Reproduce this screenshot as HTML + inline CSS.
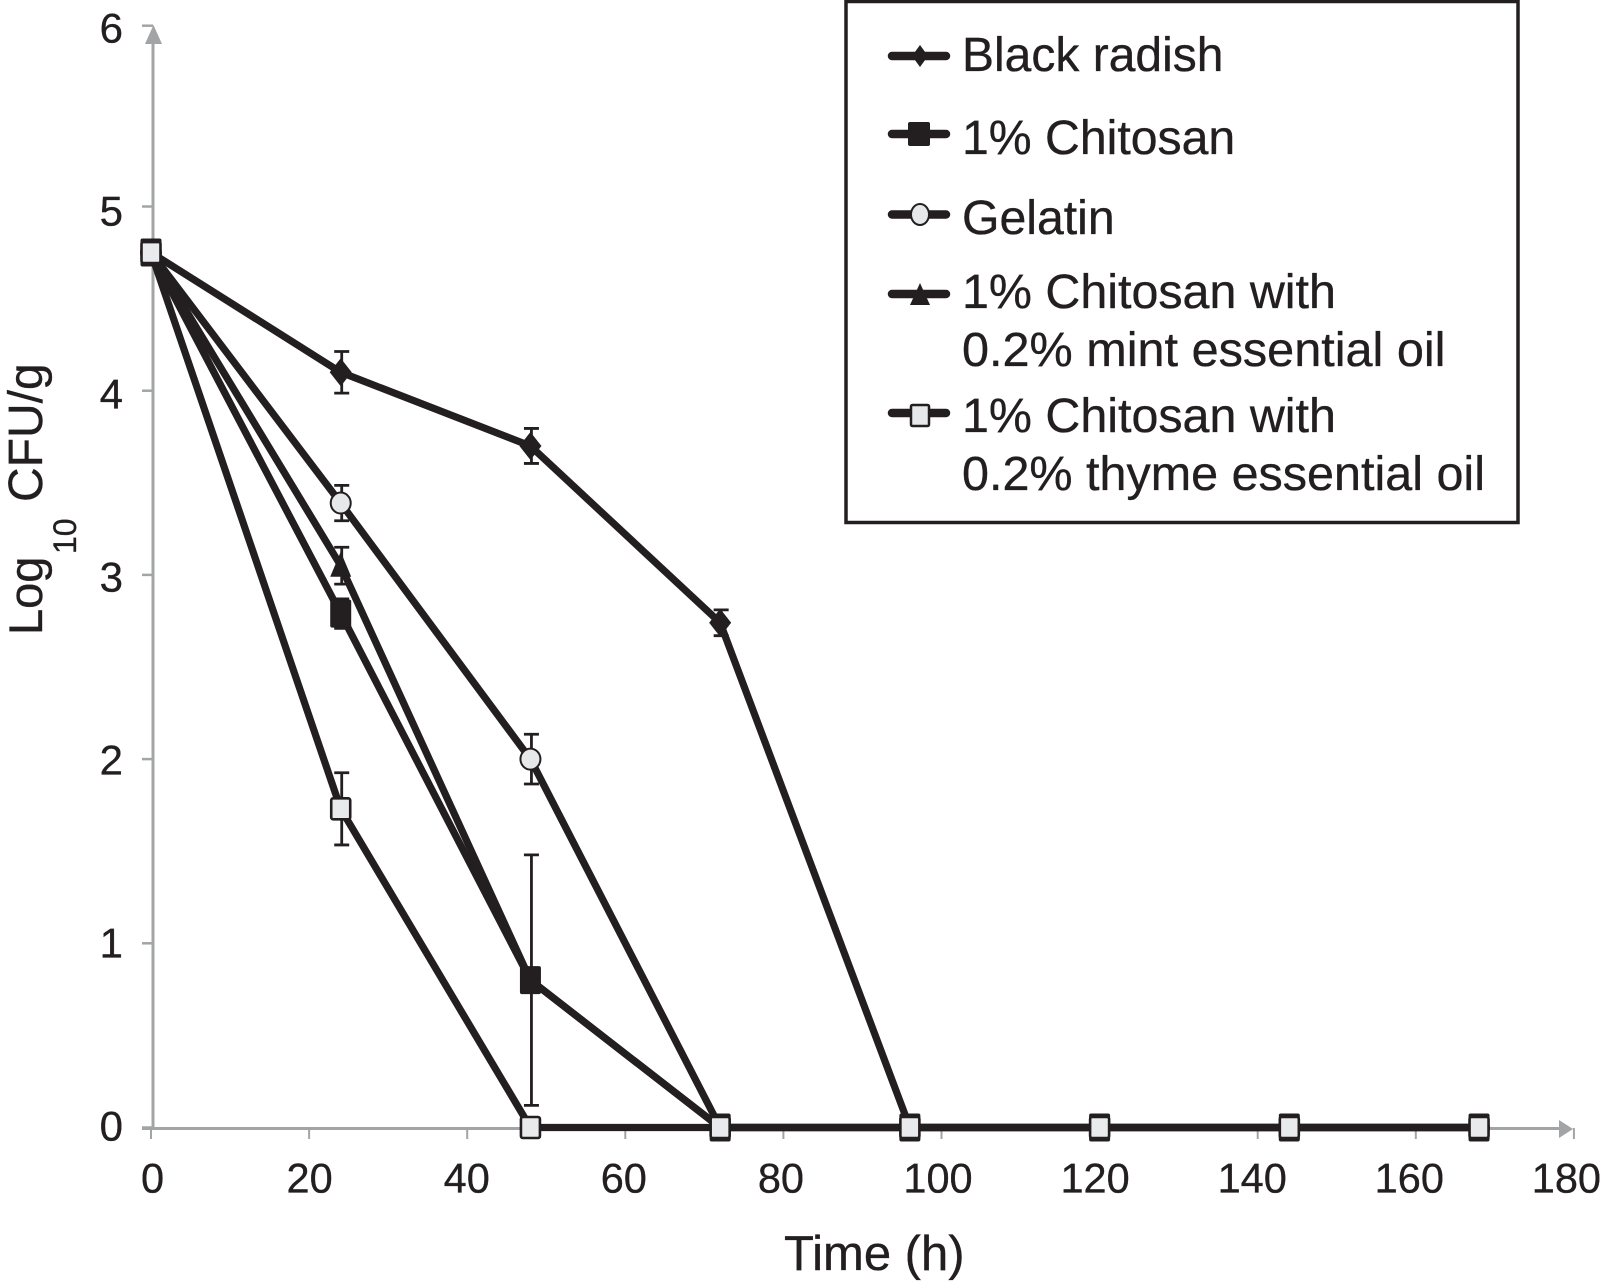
<!DOCTYPE html>
<html lang="en">
<head>
<meta charset="utf-8">
<title>Log10 CFU/g over time</title>
<style>
  html, body { margin: 0; padding: 0; background: #fff; }
  body { width: 1601px; height: 1281px; overflow: hidden; }
  svg { display: block; }
  text { font-family: "Liberation Sans", sans-serif; fill: #231f20; stroke: #231f20; stroke-width: 0.35px; }
</style>
</head>
<body>
<svg id="chart" xmlns="http://www.w3.org/2000/svg" width="1601" height="1281" viewBox="0 0 1601 1281">
  <g id="axes"></g>
  <g id="series"></g>

  <text x="784" y="1270" font-size="49">Time (h)</text>
  <text transform="translate(42,635) rotate(-90)" font-size="48"><tspan x="0" y="0" font-size="47">Log</tspan><tspan x="81" y="34" font-size="32">10</tspan><tspan x="133" y="0">CFU/g</tspan></text>

  <g>
    <rect x="846" y="1.5" width="672" height="521" fill="#fff" stroke="#231f20" stroke-width="3.5"/>

    <g>
      <line x1="892" x2="946" y1="56" y2="56" stroke="#231f20" stroke-width="8.5" stroke-linecap="round"/>
      <polygon points="920,45 928,56 920,67 912,56" fill="#231f20"/>
      <text x="962" y="71" font-size="48">Black radish</text>
    </g>
    <g>
      <line x1="892" x2="946" y1="134" y2="134" stroke="#231f20" stroke-width="8.5" stroke-linecap="round"/>
      <rect x="908" y="122" width="22" height="24" rx="2" fill="#231f20"/>
      <text x="962" y="154" font-size="48.2">1% Chitosan</text>
    </g>
    <g>
      <line x1="892" x2="946" y1="214.5" y2="214.5" stroke="#231f20" stroke-width="8.5" stroke-linecap="round"/>
      <ellipse cx="920" cy="214.5" rx="9" ry="10.5" fill="#e6e8e9" stroke="#231f20" stroke-width="2"/>
      <text x="962" y="234" font-size="48.2">Gelatin</text>
    </g>
    <g>
      <line x1="892" x2="946" y1="294" y2="294" stroke="#231f20" stroke-width="8.5" stroke-linecap="round"/>
      <polygon points="920,283 930,305 910,305" fill="#231f20"/>
      <text x="962" y="308" font-size="48.4">1% Chitosan with</text>
      <text x="962" y="366" font-size="48.6">0.2% mint essential oil</text>
    </g>
    <g>
      <line x1="892" x2="946" y1="413" y2="413" stroke="#231f20" stroke-width="8.5" stroke-linecap="round"/>
      <rect x="911" y="405" width="18" height="21" rx="1.5" fill="#e6e8e9" stroke="#231f20" stroke-width="2.5"/>
      <text x="962" y="432" font-size="48.4">1% Chitosan with</text>
      <text x="962" y="490" font-size="48.5">0.2% thyme essential oil</text>
    </g>
  </g>
</svg>

<script>
const xTickValues = [0, 20, 40, 60, 80, 100, 120, 140, 160, 180];
const yTickValues = [0, 1, 2, 3, 4, 5, 6];

const times = [0, 24, 48, 72, 96, 120, 144, 168];

const blackRadish    = [4.75, 4.10, 3.70, 2.74, 0, 0, 0, 0];
const blackRadishErr = [0, 0.113, 0.095, 0.07, 0, 0, 0, 0];

const chitosan    = [4.75, 2.79, 0.80, 0, 0, 0, 0, 0];
const chitosanErr = [0, 0.08, 0.68, 0, 0, 0, 0, 0];

const gelatin    = [4.75, 3.39, 2.00, 0, 0, 0, 0, 0];
const gelatinErr = [0, 0.096, 0.135, 0, 0, 0, 0, 0];

const mintOil    = [4.75, 3.05, 0.80, 0, 0, 0, 0, 0];
const mintOilErr = [0, 0.10, 0, 0, 0, 0, 0, 0];

const thymeOil    = [4.75, 1.73, 0, 0, 0, 0, 0, 0];
const thymeOilErr = [0, 0.196, 0, 0, 0, 0, 0, 0];

const NS = 'http://www.w3.org/2000/svg';
const INK = '#231f20';
const AXIS = '#a3a4a6';

const xScale = t => 151 + 7.905 * t;
const yScale = v => 1127.5 - 184.2 * v;
const xLabelPos = t => 152.5 + 7.855 * t;
const yLabelPos = v => 1140.7 - 183 * v;

function make(tag, attrs, parent) {
  const el = document.createElementNS(NS, tag);
  for (const k in attrs) el.setAttribute(k, attrs[k]);
  parent.appendChild(el);
  return el;
}

const axes = document.getElementById('axes');
const seriesLayer = document.getElementById('series');

const yAxisLine = make('line', { x1: 153, x2: 153, y1: 40, y2: 1129, stroke: AXIS, 'stroke-width': 3 }, axes);



const xAxisLine = make('line', { x1: 142, x2: 1562, y1: 1128.5, y2: 1128.5, stroke: AXIS, 'stroke-width': 3 }, axes);



const yArrow = make('polygon', { points: '153.5,25 162,44 145,44', fill: AXIS }, axes);



const xArrow = make('polygon', { points: '1573,1129 1559,1120 1559,1138', fill: AXIS }, axes);



yTickValues.forEach(v => {
  const y = Math.max(yScale(v), 25.7);
  const tick = make('line', { x1: 142, x2: 153, y1: y, y2: y, stroke: AXIS, 'stroke-width': 2.5 }, axes);
  
  
  const label = make('text', { x: 123, y: yLabelPos(v), 'font-size': 42, 'text-anchor': 'end' }, axes);
  
  
  label.textContent = String(v);
});

xTickValues.forEach(t => {
  const x = xScale(t);
  const tick = make('line', { x1: x, x2: x, y1: 1128, y2: 1139, stroke: AXIS, 'stroke-width': 2 }, axes);
  
  
  const label = make('text', { x: xLabelPos(t), y: 1192.7, 'font-size': 41.5, 'text-anchor': 'middle' }, axes);
  
  
  label.textContent = String(t);
});

function drawErrorBars(values, errs, parent) {
  values.forEach((v, i) => {
    if (!errs[i]) return;
    const x = xScale(times[i]) + 1;
    const top = yScale(v + errs[i]);
    const bottom = yScale(v - errs[i]);
    const bar = make('path', {
      d: 'M' + x + ' ' + top + 'V' + bottom + 'M' + (x - 7.5) + ' ' + top + 'H' + (x + 7.5) + 'M' + (x - 7.5) + ' ' + bottom + 'H' + (x + 7.5),
      fill: 'none', stroke: INK, 'stroke-width': 2.8
    }, parent);
    
    
  });
}

function drawLine(values, parent) {
  const pts = values.map((v, i) => xScale(times[i]) + ',' + yScale(v)).join(' ');
  const line = make('polyline', { points: pts, fill: 'none', stroke: INK, 'stroke-width': 7.2, 'stroke-linejoin': 'round' }, parent);
  
  
}

function diamondMarker(x, y, parent) {
  return make('polygon', {
    points: x + ',' + (y - 14) + ' ' + (x + 11) + ',' + y + ' ' + x + ',' + (y + 14) + ' ' + (x - 11) + ',' + y,
    fill: INK
  }, parent);
}
function squareMarker(x, y, parent) {
  return make('rect', { x: x - 10.5, y: y - 14, width: 21, height: 28, rx: 2, fill: INK }, parent);
}
function circleMarker(x, y, parent) {
  return make('ellipse', { cx: x, cy: y, rx: 10, ry: 10.5, fill: '#e6e8e9', stroke: INK, 'stroke-width': 2 }, parent);
}
function triangleMarker(x, y, parent) {
  return make('polygon', {
    points: x + ',' + (y - 14) + ' ' + (x + 10.5) + ',' + (y + 11) + ' ' + (x - 10.5) + ',' + (y + 11),
    fill: INK
  }, parent);
}
function hollowSquareMarker(x, y, parent) {
  return make('rect', { x: x - 9.5, y: y - 10.5, width: 19, height: 21, rx: 2, fill: '#e8eaeb', stroke: INK, 'stroke-width': 2.6 }, parent);
}

function drawMarkers(values, drawFn, parent) {
  values.forEach((v, i) => {
    const mark = drawFn(xScale(times[i]), yScale(v), parent);
    
    
  });
}

function drawSeries(name, values, errs, markerFn) {
  const group = make('g', {}, seriesLayer);
  
  
  drawErrorBars(values, errs, group);
  drawLine(values, group);
  drawMarkers(values, markerFn, group);
}

drawSeries('series-black-radish', blackRadish, blackRadishErr, diamondMarker);
drawSeries('series-chitosan', chitosan, chitosanErr, squareMarker);
drawSeries('series-gelatin', gelatin, gelatinErr, circleMarker);
drawSeries('series-mint-oil', mintOil, mintOilErr, triangleMarker);
drawSeries('series-thyme-oil', thymeOil, thymeOilErr, hollowSquareMarker);
</script>
</body>
</html>
